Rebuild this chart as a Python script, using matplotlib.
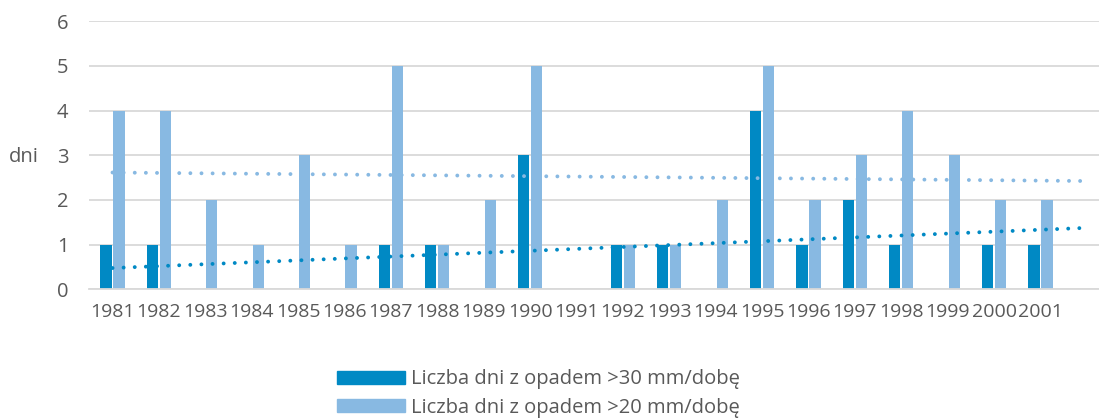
import matplotlib
matplotlib.use("Agg")
import matplotlib.pyplot as plt
import numpy as np
from matplotlib.patches import Patch

years = [str(y) for y in range(1981, 2002)]
days_30mm = [1, 1, 0, 0, 0, 0, 1, 1, 0, 3, 0, 1, 1, 0, 4, 1, 2, 1, 0, 1, 1]
days_20mm = [4, 4, 2, 1, 3, 1, 5, 1, 2, 5, 0, 1, 1, 2, 5, 2, 3, 4, 3, 2, 2]
label_30 = "Liczba dni z opadem >30 mm/dobę"
label_20 = "Liczba dni z opadem >20 mm/dobę"
y_label = "dni"

c_dark = "#0089C4"
c_light = "#88B9E2"
txt = "#595959"
grid_c = "#D9D9D9"

plt.rcParams['font.family'] = ['Open Sans', 'DejaVu Sans']

W, H = 1099, 419
fig = plt.figure(figsize=(W / 100, H / 100), dpi=100)
left_px, right_px, top_px, bot_px = 89.3, 1099, 21.3, 289.3
ax = fig.add_axes([left_px / W, 1 - bot_px / H, (right_px - left_px) / W, (bot_px - top_px) / H])

x = np.arange(len(years))
bw = 0.245
ax.bar(x - 0.14, days_30mm, width=bw, color=c_dark, zorder=2)
ax.bar(x + 0.14, days_20mm, width=bw, color=c_light, zorder=2)

# linear trend lines (fitted to data, extended one period forward)
xt = np.arange(len(years) + 1)
for vals, col in ((days_20mm, c_light), (days_30mm, c_dark)):
    k, b = np.polyfit(x, vals, 1)
    ax.plot(xt, k * xt + b, color=col, lw=2.8, linestyle=(0, (0.01, 2.85)),
            dash_capstyle='round', zorder=3)

ax.set_xlim(-0.5, -0.5 + (right_px - left_px) / 46.4)
ax.set_ylim(0, 6)
ax.set_yticks(range(0, 7))
ax.set_xticks(x)
ax.set_xticklabels(years)
ax.grid(axis='y', color=grid_c, lw=1.3, zorder=0)
ax.set_axisbelow(True)
for s in ('top', 'right', 'left'):
    ax.spines[s].set_visible(False)
ax.spines['bottom'].set_color(grid_c)
ax.spines['bottom'].set_linewidth(1.3)
ax.tick_params(axis='both', length=0, colors=txt)
ax.tick_params(axis='y', labelsize=14.5, pad=15)
ax.tick_params(axis='x', labelsize=14, pad=10)

fig.text(9 / W, 1 - 157 / H, y_label, fontsize=14.5, color=txt, ha='left', va='center')

handles = [Patch(color=c_dark, label=label_30), Patch(color=c_light, label=label_20)]
leg = fig.legend(handles=handles, loc='center left', bbox_to_anchor=(337 / W, 1 - 393.5 / H),
                 frameon=False, fontsize=14.5, handlelength=3.38, handleheight=0.6,
                 handletextpad=0.3, labelspacing=0.42, borderpad=0, borderaxespad=0)
for t in leg.get_texts():
    t.set_color(txt)

fig.savefig("out.png", dpi=100)
